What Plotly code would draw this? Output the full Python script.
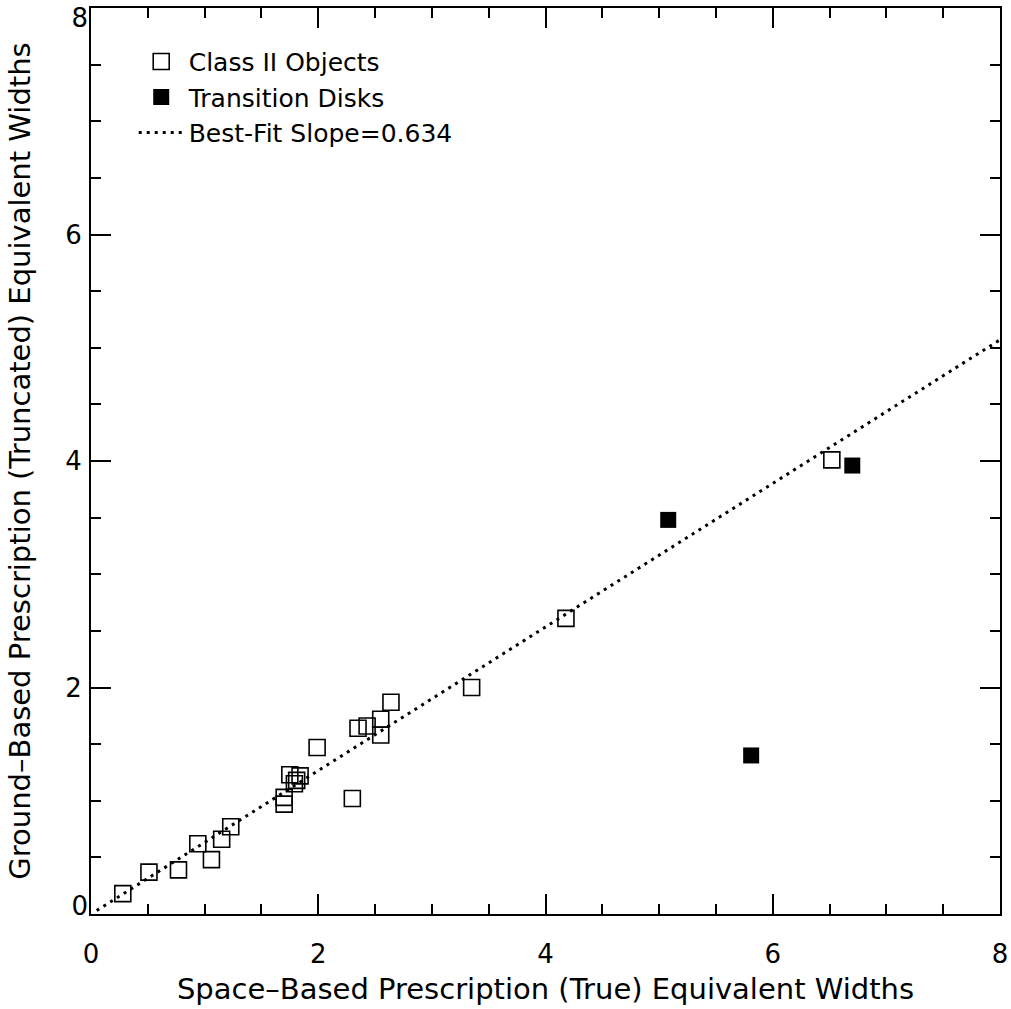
import plotly.graph_objects as go

# Class II objects (open squares)
class2_x = [0.28, 0.51, 0.77, 0.94, 1.06, 1.15, 1.23, 1.70, 1.70, 1.75, 1.84, 1.81, 1.79,
            1.99, 2.30, 2.35, 2.43, 2.55, 2.55, 2.64, 3.35, 4.18, 6.52]
class2_y = [0.18, 0.37, 0.39, 0.62, 0.48, 0.66, 0.77, 0.97, 1.03, 1.23, 1.22, 1.18, 1.15,
            1.47, 1.02, 1.64, 1.66, 1.72, 1.58, 1.87, 2.00, 2.61, 4.01]

# Transition disks (filled squares)
trans_x = [5.08, 5.81, 6.70]
trans_y = [3.48, 1.40, 3.96]

# Best-fit line endpoints (slope 0.634)
fit_x = [0.05, 8.0]
fit_y = [0.03, 5.07]

x_tick_vals = [0, 2, 4, 6, 8]
x_tick_text = ["0", "2", "4", "6", "8"]
y_tick_vals = [0, 2, 4, 6, 8]
y_tick_text = ["", "2", "4", "6", ""]   # end labels drawn on helper axes (nudged inward)
y_top_val, y_top_text = [8], ["8"]
y_bot_val, y_bot_text = [0], ["0"]

FONT = "DejaVu Sans"

fig = go.Figure()
fig.add_trace(go.Scatter(
    x=class2_x, y=class2_y, mode="markers", name="Class II Objects",
    marker=dict(symbol="square-open", size=16, color="black", line=dict(width=1.6, color="black")),
))
fig.add_trace(go.Scatter(
    x=trans_x, y=trans_y, mode="markers", name="Transition Disks",
    marker=dict(symbol="square", size=16, color="black", line=dict(width=0)),
))
fig.add_trace(go.Scatter(
    x=fit_x, y=fit_y, mode="lines", name="Best-Fit Slope=0.634",
    line=dict(color="black", width=3, dash="3px,5px"),
))
# helper (empty) traces so the label-only helper axes get drawn
fig.add_trace(go.Scatter(x=[], y=[], yaxis="y2", showlegend=False, hoverinfo="skip"))
fig.add_trace(go.Scatter(x=[], y=[], yaxis="y3", showlegend=False, hoverinfo="skip"))

tickfont = dict(family=FONT, size=26, color="black")
axis_common = dict(
    range=[0, 8], showgrid=False, zeroline=False, automargin=False,
    showline=True, linecolor="black", linewidth=2, mirror="ticks",
    ticks="inside", ticklen=20, tickwidth=1.5, tickcolor="black",
    tickmode="array", tickfont=tickfont,
    ticklabeloverflow="allow",
    minor=dict(ticks="inside", ticklen=10, tickwidth=1.5, tickcolor="black", dtick=0.5, showgrid=False),
)
helper_common = dict(
    range=[0, 8], overlaying="y", side="left", anchor="x",
    showgrid=False, zeroline=False, showline=False, ticks="",
    automargin=False, tickmode="array", tickfont=tickfont,
    ticklabeloverflow="allow", ticklabelstandoff=2,
)

fig.update_layout(
    width=1011, height=1009,
    margin=dict(l=91, r=11, t=8, b=95),
    paper_bgcolor="white", plot_bgcolor="white",
    showlegend=True,
    legend=dict(
        x=0.047, y=0.966, xanchor="left", yanchor="top",
        bgcolor="rgba(0,0,0,0)", borderwidth=0,
        font=dict(family=FONT, size=25, color="black"),
        itemwidth=45, tracegroupgap=0,
    ),
    xaxis=dict(**axis_common, tickvals=x_tick_vals, ticktext=x_tick_text, ticklabelstandoff=16,
               title=dict(text="Space\u2013Based Prescription (True) Equivalent Widths",
                          font=dict(family=FONT, size=29, color="black"), standoff=10)),
    yaxis=dict(**axis_common, tickvals=y_tick_vals, ticktext=y_tick_text, ticklabelstandoff=2,
               title=dict(text="Ground\u2013Based Prescription (Truncated) Equivalent Widths",
                          font=dict(family=FONT, size=29, color="black"), standoff=26)),
    yaxis2=dict(**helper_common, tickvals=y_top_val, ticktext=y_top_text, ticklabelshift=10),
    yaxis3=dict(**helper_common, tickvals=y_bot_val, ticktext=y_bot_text, ticklabelshift=-8),
)

fig.write_html("out.html", config={"displayModeBar": False},
               post_script="document.body.style.margin='0';document.body.style.overflow='hidden';")
